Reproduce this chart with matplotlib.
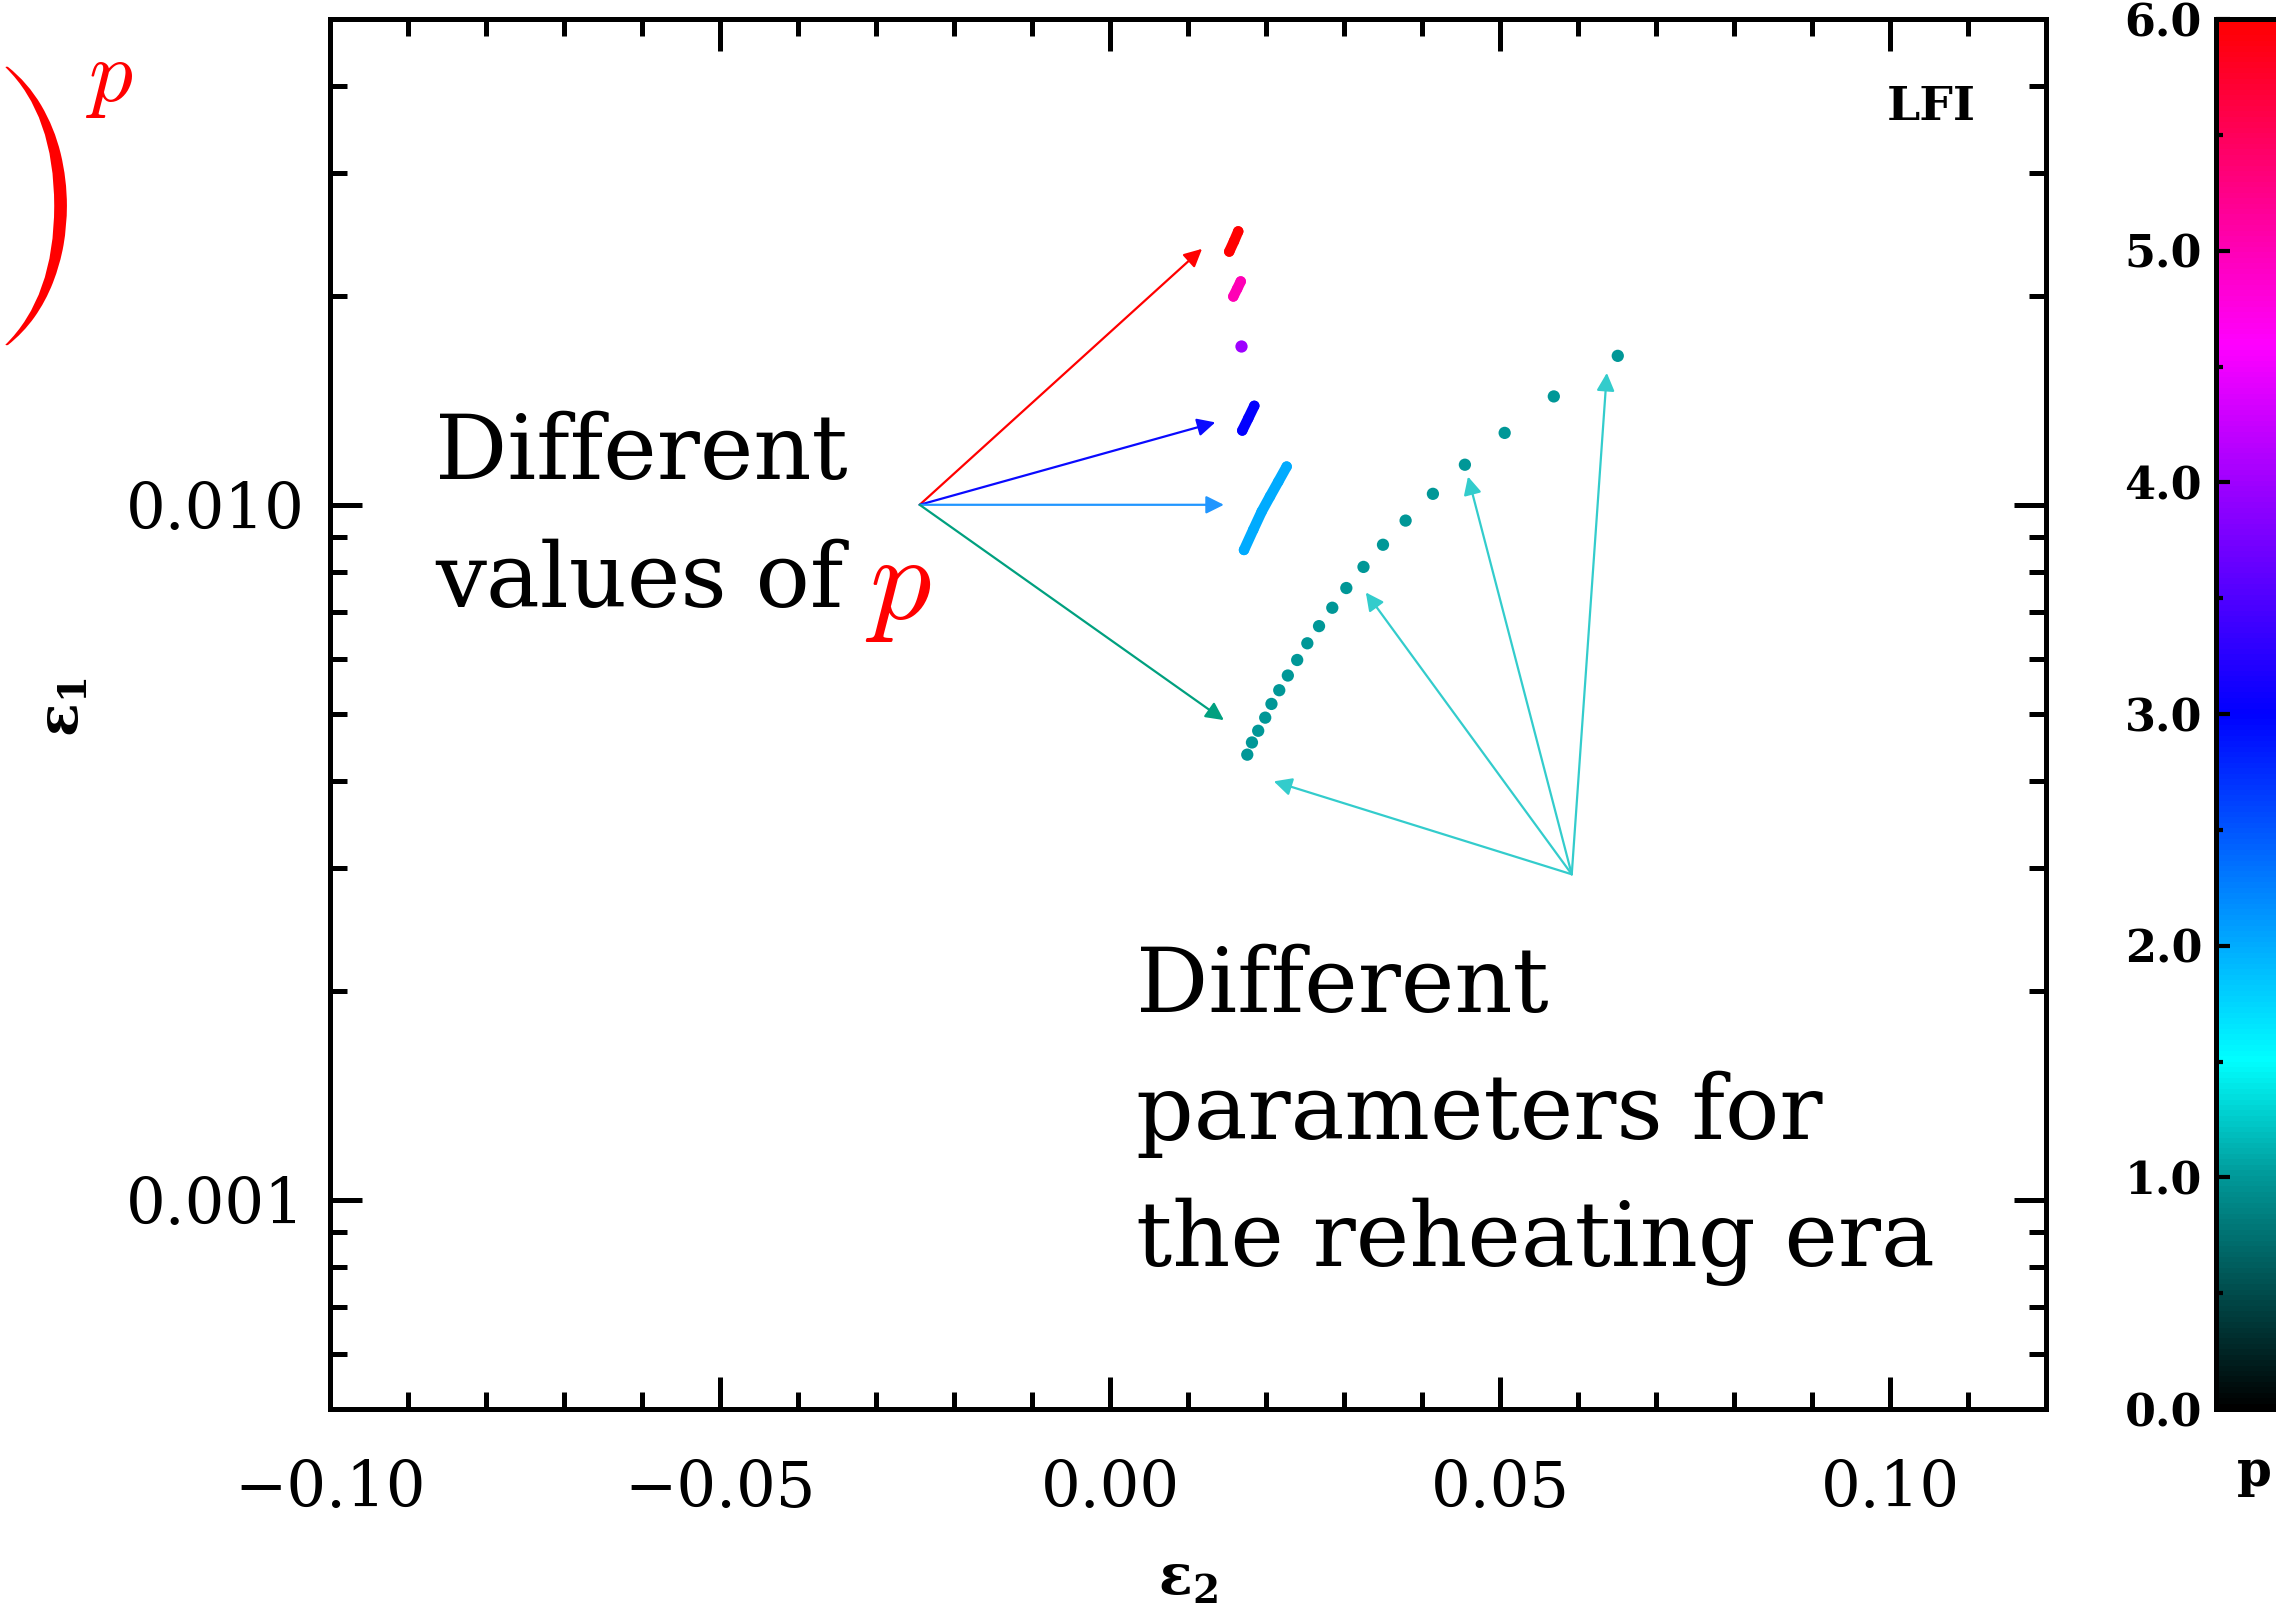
import matplotlib
matplotlib.use('Agg')
import matplotlib.pyplot as plt
import matplotlib.patheffects as pe
import numpy as np

from matplotlib.colors import LinearSegmentedColormap
from matplotlib.ticker import FixedLocator, LogLocator, MultipleLocator, NullFormatter

plt.rcParams['font.family'] = 'DejaVu Serif'

# predictions, one group per value of p
p_levels = [1, 2, 3, 4, 5, 6]

eps2_p1 = [0.0651, 0.0569, 0.0506, 0.0455, 0.0414, 0.0379, 0.0350, 0.0325, 0.0303, 0.0285,
           0.0268, 0.0253, 0.0240, 0.0228, 0.0217, 0.0207, 0.0199, 0.0190, 0.0182, 0.0176]
eps1_p1 = [0.01638, 0.01432, 0.01269, 0.01142, 0.01037, 0.00949, 0.00876, 0.00814, 0.00759, 0.00711,
           0.00669, 0.00632, 0.00598, 0.00568, 0.00541, 0.00517, 0.00494, 0.00473, 0.00455, 0.00437]

eps2_p2 = [0.01718, 0.01837, 0.01945, 0.02051, 0.02158, 0.02265]
eps1_p2 = [0.00861, 0.00921, 0.00978, 0.01028, 0.01080, 0.01135]

eps2_p3 = [0.01696, 0.01773, 0.01850]
eps1_p3 = [0.01279, 0.01332, 0.01388]

eps2_p4 = [0.01683]
eps1_p4 = [0.01690]

eps2_p5 = [0.01581, 0.01630, 0.01676]
eps1_p5 = [0.01994, 0.02045, 0.02096]

eps2_p6 = [0.01529, 0.01590, 0.01644]
eps1_p6 = [0.02314, 0.02395, 0.02474]

groups = [(eps2_p1, eps1_p1), (eps2_p2, eps1_p2), (eps2_p3, eps1_p3),
          (eps2_p4, eps1_p4), (eps2_p5, eps1_p5), (eps2_p6, eps1_p6)]

# annotation arrows
p_arrow_start = (-0.0244, 0.0100)
p_arrow_x = [0.0118, 0.0135, 0.0146, 0.0146]
p_arrow_y = [0.02335, 0.01314, 0.0100, 0.0049]
p_arrow_colors = ['#ff0000', '#0a0aff', '#2196ff', '#00a07f']

reh_arrow_start = (0.0592, 0.00294)
reh_arrow_x = [0.0210, 0.0328, 0.0459, 0.0637]
reh_arrow_y = [0.0040, 0.00748, 0.01098, 0.01548]

x_ticks = [-0.10, -0.05, 0.00, 0.05, 0.10]
x_ticklabels = ['\u22120.10', '\u22120.05', '0.00', '0.05', '0.10']
y_ticks = [0.001, 0.01]
y_ticklabels = ['0.001', '0.010']
cbar_ticks = [0, 1, 2, 3, 4, 5, 6]

cmap = LinearSegmentedColormap.from_list('pcol', [
    (0.0, (0, 0, 0)),
    (1.0 / 6, (0, 0.6, 0.6)),
    (1.5 / 6, (0, 1, 1)),
    (2.0 / 6, (0, 0.67, 1)),
    (3.0 / 6, (0, 0, 1)),
    (4.0 / 6, (0.62, 0, 1)),
    (4.6 / 6, (1, 0, 1)),
    (5.0 / 6, (1, 0, 0.72)),
    (1.0, (1, 0, 0)),
])
norm = plt.Normalize(0, 6)

fig = plt.figure(figsize=(22.76, 16.14), dpi=100)
ax = fig.add_axes([0.14499, 0.12701, 0.75395, 0.86121])
cax = fig.add_axes([0.97364, 0.12701, 0.05, 0.86121])

for p, (xs, ys) in zip(p_levels, groups):
    streak = p > 1 and len(xs) > 1
    if streak:
        ax.plot(xs, ys, color=cmap(norm(p)), lw=7.5, solid_capstyle='round', zorder=3)
    sc = ax.scatter(xs, ys, c=[p] * len(xs), cmap=cmap, norm=norm,
                    s=56 if streak else 78, linewidths=0, zorder=3)

ax.set_yscale('log')
ax.set_xlim(-0.10, 0.12)
ax.set_ylim(5e-4, 5e-2)

ax.xaxis.set_major_locator(FixedLocator(x_ticks))
ax.set_xticklabels(x_ticklabels)
ax.xaxis.set_minor_locator(MultipleLocator(0.01))
ax.yaxis.set_major_locator(FixedLocator(y_ticks))
ax.set_yticklabels(y_ticklabels)
ax.yaxis.set_minor_locator(LogLocator(base=10, subs=np.arange(2, 10)))
ax.yaxis.set_minor_formatter(NullFormatter())

ax.tick_params(which='both', direction='in', top=True, right=True, width=3.6)
ax.tick_params(which='major', length=23)
ax.tick_params(which='minor', length=12)
ax.tick_params(axis='x', which='major', pad=36, labelsize=45)
ax.tick_params(axis='y', which='major', pad=18, labelsize=45)
for s in ax.spines.values():
    s.set_linewidth(3.6)

ax.set_xlabel(r'$\mathbf{\epsilon_2}$', fontsize=40, math_fontfamily='dejavuserif')
ax.xaxis.set_label_coords(0.5, -0.102)
ax.set_ylabel(r'$\mathbf{\epsilon_1}$', fontsize=40, math_fontfamily='dejavuserif')
ax.yaxis.set_label_coords(-0.140, 0.505)

ax.text(0.933, 0.937, 'LFI', transform=ax.transAxes, ha='center', va='center',
        fontsize=34, fontweight='bold')

arrow_kw = dict(arrowstyle='-|>,head_length=0.4,head_width=0.2', mutation_scale=27,
                lw=1.6, shrinkA=0, shrinkB=0)
for tx, ty, col in zip(p_arrow_x, p_arrow_y, p_arrow_colors):
    ax.annotate('', xy=(tx, ty), xytext=p_arrow_start,
                arrowprops=dict(color=col, **arrow_kw), zorder=2)
for tx, ty in zip(reh_arrow_x, reh_arrow_y):
    ax.annotate('', xy=(tx, ty), xytext=reh_arrow_start,
                arrowprops=dict(color='#33cccc', **arrow_kw), zorder=2)

# hand-written style labels
txt_kw = dict(fontsize=65, va='baseline', ha='left', color='black')
ax.text(-0.0865, 0.01090, 'Different', **txt_kw)
ax.text(-0.0865, 0.00713, 'values of', **txt_kw)
ax.text(-0.0314, 0.00686, '$p$', fontsize=88, va='baseline', ha='left',
        color='red', math_fontfamily='cm')

ax.text(0.0033, 0.001865, 'Different', **txt_kw)
ax.text(0.0033, 0.001224, 'parameters for', **txt_kw)
ax.text(0.0033, 0.000803, 'the reheating era', **txt_kw)

# piece of the potential formula cut off at the top-left
fig.text(0.0128, 0.8725, '$)$', fontsize=204, color='red', ha='center', va='center',
         math_fontfamily='cm',
         path_effects=[pe.Stroke(linewidth=3.5, foreground='white')])
fig.text(0.0485, 0.9520, '$p$', fontsize=63, color='red', ha='center', va='center',
         math_fontfamily='cm')

cbar = fig.colorbar(sc, cax=cax)
cbar.set_ticks(cbar_ticks)
cbar.set_ticklabels(['%.1f' % t for t in cbar_ticks])
cax.yaxis.set_minor_locator(MultipleLocator(0.5))
cax.yaxis.set_ticks_position('left')
cax.yaxis.set_label_position('left')
cax.tick_params(which='both', direction='in', left=True, right=False,
                labelleft=True, labelright=False, width=3.0, pad=10)
cax.tick_params(which='major', length=10, labelsize=32)
cax.tick_params(which='minor', length=5)
for lab in cax.get_yticklabels():
    lab.set_fontweight('bold')
cbar.outline.set_linewidth(3.6)
fig.text(0.9903, 0.0874, 'p', fontsize=36, fontweight='bold', ha='center', va='center')

fig.savefig('out.png', dpi=100)
